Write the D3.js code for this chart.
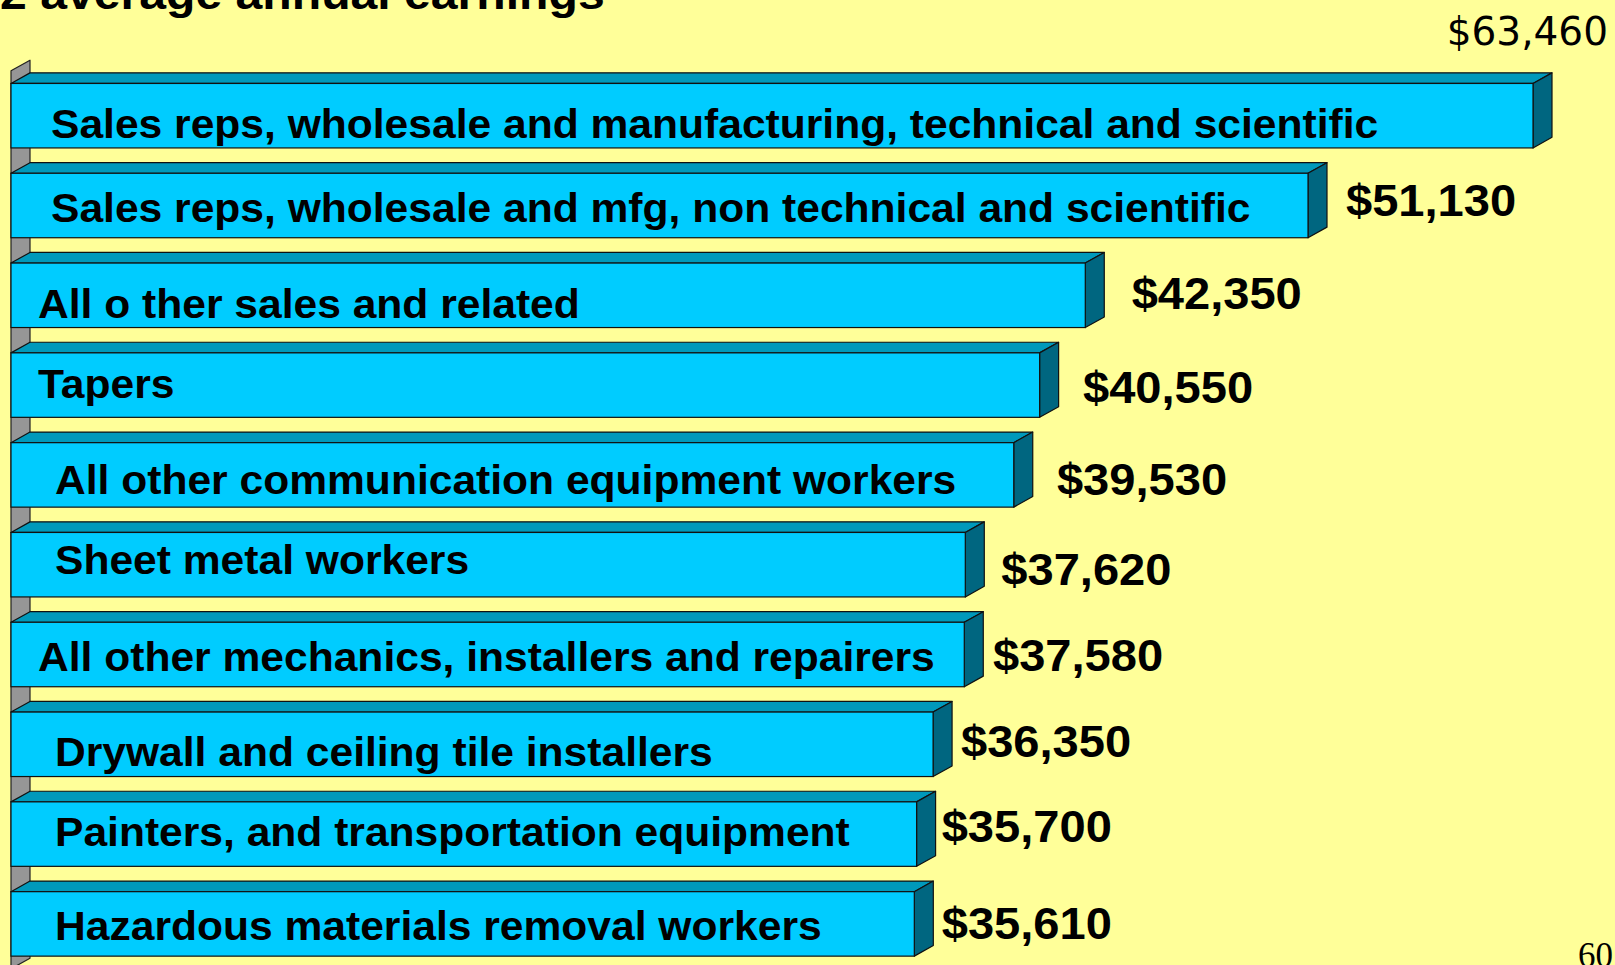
<!DOCTYPE html>
<html>
<head>
<meta charset="utf-8">
<script src="https://cdn.jsdelivr.net/npm/d3@7"></script>
<style>
  html, body { margin: 0; padding: 0; background: #FFFF99; overflow: hidden; }
  svg { display: block; }
</style>
</head>
<body>
<svg id="chart" width="1615" height="965"></svg>
<script>
// ---- data ----
const categories = [
  "Sales reps, wholesale and manufacturing, technical and scientific",
  "Sales reps, wholesale and mfg, non technical and scientific",
  "All o ther sales and related",
  "Tapers",
  "All other communication equipment workers",
  "Sheet metal workers",
  "All other mechanics, installers and repairers",
  "Drywall and ceiling tile installers",
  "Painters, and transportation equipment",
  "Hazardous materials removal workers"
];
const earnings = [63460, 51130, 42350, 40550, 39530, 37620, 37580, 36350, 35700, 35610];
const axisMax = 60000;
const titleText = "2 average annual earnings";
const pageNumber = "60";

// ---- label placement (hand-placed text boxes) ----
const nameX  = [51, 51, 38, 38, 55, 55, 38, 55, 55, 55];           // text start
const nameDy = [22.5, 16.6, 22.5, 12.6, 19, 9, 16, 21.3, 11.4, 16.5]; // baseline below bar centre
const valueDx = [0, 38, 46.4, 43.4, 43.2, 36, 28.7, 27.9, 25.1, 27.4]; // gap after bar front
const valueDy = [0, 10.6, 13.5, 17.6, 20, 20, 16, 12.3, 7.4, 15.5];

// ---- setup ----
const W = 1615, H = 965;
const BG = "#FFFF99";
const FRONT = "#00CCFF", TOP = "#0099BB", SIDE = "#006680", WALL = "#969696";
const depth = { dx: 19, dy: 10.6 };
const stretch = 1.07;
const fmt = d3.format("$,");

const svg = d3.select("#chart");
svg.append("rect").attr("width", W).attr("height", H).attr("fill", BG);

const x = d3.scaleLinear().domain([0, axisMax]).range([11, 1533]).clamp(true);
const y = d3.scaleBand().domain(categories).range([70.8, 968.8])
  .paddingInner(0.282).paddingOuter(0.141);

const x0 = x(0);
const [yTop, yBot] = y.range();

// left wall of the 3-D plot
svg.append("path")
  .attr("d", d3.line()([
    [x0, yTop], [x0 + depth.dx, yTop - depth.dy],
    [x0 + depth.dx, yBot - depth.dy], [x0, yBot]
  ]) + "Z")
  .attr("fill", WALL).attr("stroke", "#222").attr("stroke-width", 1.2)
  .attr("stroke-linejoin", "round");

// bars
const rows = categories.map((c, i) => ({ name: c, value: earnings[i], i }));
const bar = svg.append("g").selectAll("g").data(rows).join("g");

bar.append("path") // top face
  .attr("d", d => {
    const yy = y(d.name), x1 = x(d.value);
    return d3.line()([[x0, yy], [x0 + depth.dx, yy - depth.dy], [x1 + depth.dx, yy - depth.dy], [x1, yy]]) + "Z";
  })
  .attr("fill", TOP).attr("stroke", "#111").attr("stroke-width", 1.2).attr("stroke-linejoin", "round");

bar.append("path") // side face
  .attr("d", d => {
    const yy = y(d.name), x1 = x(d.value), h = y.bandwidth();
    return d3.line()([[x1, yy], [x1 + depth.dx, yy - depth.dy], [x1 + depth.dx, yy + h - depth.dy], [x1, yy + h]]) + "Z";
  })
  .attr("fill", SIDE).attr("stroke", "#111").attr("stroke-width", 1.2).attr("stroke-linejoin", "round");

bar.append("rect") // front face
  .attr("x", x0)
  .attr("y", d => y(d.name))
  .attr("width", d => x(d.value) - x0)
  .attr("height", y.bandwidth())
  .attr("fill", FRONT).attr("stroke", "#111").attr("stroke-width", 1.2);

// category names inside the bars
bar.append("text")
  .attr("transform", d => `translate(${nameX[d.i]},${y(d.name) + y.bandwidth() / 2 + nameDy[d.i]}) scale(${stretch},1)`)
  .attr("font-family", "'Liberation Sans', Arial, sans-serif")
  .attr("font-weight", "bold").attr("font-size", 39.8).attr("fill", "#000")
  .text(d => d.name);

// value labels
bar.filter(d => d.value <= axisMax).append("text")
  .attr("transform", d => `translate(${x(d.value) + valueDx[d.i]},${y(d.name) + y.bandwidth() / 2 + valueDy[d.i]}) scale(${stretch},1)`)
  .attr("font-family", "'Liberation Sans', Arial, sans-serif")
  .attr("font-weight", "bold").attr("font-size", 44).attr("fill", "#000")
  .text(d => fmt(d.value));

// value of the bar that runs past the axis, set above its end
bar.filter(d => d.value > axisMax).append("text")
  .attr("x", d => x(d.value) + 75)
  .attr("y", d => y(d.name) - 38)
  .attr("text-anchor", "end")
  .attr("font-family", "'DejaVu Sans', Verdana, sans-serif")
  .attr("font-size", 39).attr("fill", "#000")
  .text(d => fmt(d.value));

// title (runs off the top of the slide)
svg.append("text")
  .attr("transform", `translate(0,9) scale(${stretch},1)`)
  .attr("font-family", "'Liberation Sans', Arial, sans-serif")
  .attr("font-weight", "bold").attr("font-size", 45).attr("fill", "#000")
  .text(titleText);

// slide number
svg.append("text")
  .attr("x", 1613).attr("y", 967)
  .attr("text-anchor", "end")
  .attr("font-family", "'Liberation Serif', 'Times New Roman', serif")
  .attr("font-size", 35).attr("fill", "#000")
  .text(pageNumber);
</script>
</body>
</html>
